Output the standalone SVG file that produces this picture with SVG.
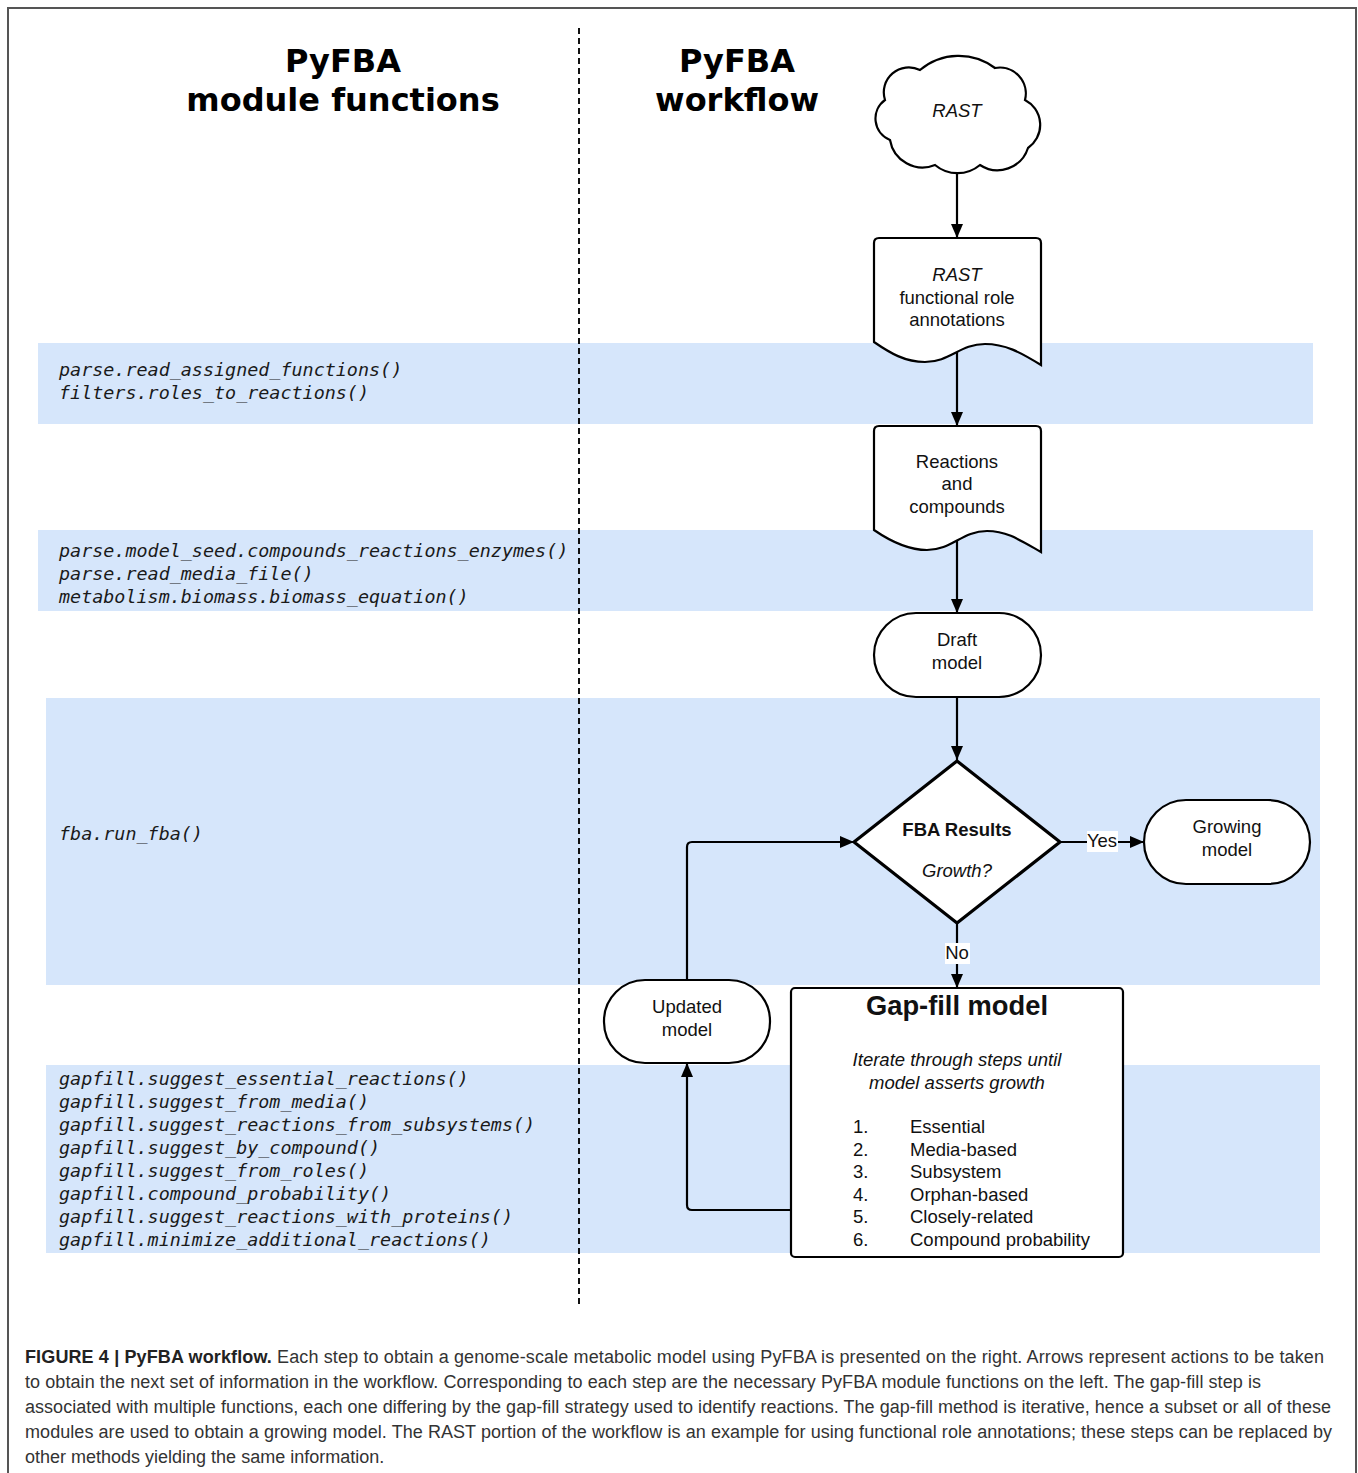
<svg xmlns="http://www.w3.org/2000/svg" width="1358" height="1473" viewBox="0 0 1358 1473">
<style>
.band{fill:#d6e6fb}
.title{font-family:"DejaVu Sans",sans-serif;font-weight:bold;font-size:32px;fill:#000;text-anchor:middle}
.code{font-family:"DejaVu Sans Mono",monospace;font-style:oblique;font-size:18.4px;fill:#1a1a1a}
.shape{fill:#fff;stroke:#000;stroke-width:2.2}
.lbl{font-family:"Liberation Sans",Arial,sans-serif;font-size:18.5px;fill:#111;text-anchor:middle}
.it{font-style:italic}
.b{font-weight:bold}
.conn{fill:none;stroke:#000;stroke-width:2.2}
.cap{font-family:"Liberation Sans",Arial,sans-serif;font-size:18px;fill:#333}
</style>
<defs>
<marker id="ah" viewBox="0 0 14 12" refX="14" refY="6" markerWidth="14" markerHeight="12" markerUnits="userSpaceOnUse" orient="auto">
<path d="M0,0 L14,6 L0,12 Z" fill="#000"/>
</marker>
</defs>
<rect width="1358" height="1473" fill="#fff"/>
<path d="M8,1473 V8 H1356 V1473" fill="none" stroke="#555" stroke-width="2"/>

<g id="bands">
<rect class="band" x="38" y="343" width="1275" height="81"/>
<rect class="band" x="38" y="530" width="1275" height="81"/>
<rect class="band" x="46" y="698" width="1274" height="287"/>
<rect class="band" x="46" y="1065" width="1274" height="188"/>
</g>

<line x1="579" y1="28" x2="579" y2="1306" stroke="#111" stroke-width="2" stroke-dasharray="6,4"/>

<g id="titles">
<text class="title" x="343" y="72">PyFBA</text>
<text class="title" x="343" y="111">module functions</text>
<text class="title" x="737" y="72">PyFBA</text>
<text class="title" x="737" y="111">workflow</text>
</g>

<g id="functions">
<text class="code" x="59" y="376">parse.read_assigned_functions()</text>
<text class="code" x="59" y="399">filters.roles_to_reactions()</text>
<text class="code" x="59" y="557">parse.model_seed.compounds_reactions_enzymes()</text>
<text class="code" x="59" y="580">parse.read_media_file()</text>
<text class="code" x="59" y="603">metabolism.biomass.biomass_equation()</text>
<text class="code" x="59" y="840">fba.run_fba()</text>
<text class="code" x="59" y="1085">gapfill.suggest_essential_reactions()</text>
<text class="code" x="59" y="1108">gapfill.suggest_from_media()</text>
<text class="code" x="59" y="1131">gapfill.suggest_reactions_from_subsystems()</text>
<text class="code" x="59" y="1154">gapfill.suggest_by_compound()</text>
<text class="code" x="59" y="1177">gapfill.suggest_from_roles()</text>
<text class="code" x="59" y="1200">gapfill.compound_probability()</text>
<text class="code" x="59" y="1223">gapfill.suggest_reactions_with_proteins()</text>
<text class="code" x="59" y="1246">gapfill.minimize_additional_reactions()</text>
</g>

<g id="connectors">
<path class="conn" d="M957,168 V238" marker-end="url(#ah)"/>
<path class="conn" d="M957,352 V426" marker-end="url(#ah)"/>
<path class="conn" d="M957,540 V613" marker-end="url(#ah)"/>
<path class="conn" d="M957,697 V760" marker-end="url(#ah)"/>
<path class="conn" d="M1060,842 H1144" marker-end="url(#ah)"/>
<path class="conn" d="M957,923 V988" marker-end="url(#ah)"/>
<path class="conn" d="M791,1210 H692 Q687,1210 687,1205 V1063" marker-end="url(#ah)"/>
<path class="conn" d="M687,980 V847 Q687,842 692,842 H854" marker-end="url(#ah)"/>
<rect x="1087" y="831" width="31" height="21" fill="#fff"/>
<text class="lbl" x="1102" y="847">Yes</text>
<rect x="945" y="943" width="25" height="21" fill="#fff"/>
<text class="lbl" x="957" y="959">No</text>
</g>

<g id="rast-cloud">
<path class="shape" d="M885,100 A25,25 0 0 1 920,70 A60,60 0 0 1 995,68 A26,26 0 0 1 1025,100 A28,28 0 0 1 1028,148 A32,32 0 0 1 980,165 A35,35 0 0 1 935,165 A33,33 0 0 1 890,140 A23,23 0 0 1 885,100 Z"/>
<text class="lbl it" x="957" y="117">RAST</text>
</g>

<g id="rast-annotations">
<path class="shape" d="M874,342 V243 Q874,238 879,238 H1036 Q1041,238 1041,243 V365 C1020,352 1005,344 985,344 C960,344 950,362 925,362 C905,362 890,353 874,342 Z"/>
<text class="lbl it" x="957" y="281">RAST</text>
<text class="lbl" x="957" y="304">functional role</text>
<text class="lbl" x="957" y="326">annotations</text>
</g>

<g id="reactions-compounds">
<path class="shape" d="M874,530 V431 Q874,426 879,426 H1036 Q1041,426 1041,431 V552 C1020,540 1007,531 987,531 C962,531 952,550 927,550 C907,550 890,541 874,530 Z"/>
<text class="lbl" x="957" y="468">Reactions</text>
<text class="lbl" x="957" y="490">and</text>
<text class="lbl" x="957" y="513">compounds</text>
</g>

<g id="draft-model">
<rect class="shape" x="874" y="613" width="167" height="84" rx="42" ry="42"/>
<text class="lbl" x="957" y="646">Draft</text>
<text class="lbl" x="957" y="669">model</text>
</g>

<g id="fba-results">
<path d="M957,761 L1060,842 L957,923 L854,842 Z" fill="#fff" stroke="#000" stroke-width="3.2" stroke-linejoin="round"/>
<text class="lbl b" x="957" y="836">FBA Results</text>
<text class="lbl it" x="957" y="877">Growth?</text>
</g>

<g id="growing-model">
<rect class="shape" x="1144" y="800" width="166" height="84" rx="42" ry="42"/>
<text class="lbl" x="1227" y="833">Growing</text>
<text class="lbl" x="1227" y="856">model</text>
</g>

<g id="updated-model">
<rect class="shape" x="604" y="980" width="166" height="83" rx="41" ry="41"/>
<text class="lbl" x="687" y="1013">Updated</text>
<text class="lbl" x="687" y="1036">model</text>
</g>

<g id="gap-fill-model">
<rect class="shape" x="791" y="988" width="332" height="269" rx="4" ry="4"/>
<text class="lbl b" x="957" y="1015" style="font-size:27.3px">Gap-fill model</text>
<text class="lbl it" x="957" y="1066">Iterate through steps until</text>
<text class="lbl it" x="957" y="1089">model asserts growth</text>
<g class="lbl" style="text-anchor:start">
<text x="853" y="1133">1.</text><text x="910" y="1133">Essential</text>
<text x="853" y="1155.5">2.</text><text x="910" y="1155.5">Media-based</text>
<text x="853" y="1178">3.</text><text x="910" y="1178">Subsystem</text>
<text x="853" y="1200.5">4.</text><text x="910" y="1200.5">Orphan-based</text>
<text x="853" y="1223">5.</text><text x="910" y="1223">Closely-related</text>
<text x="853" y="1245.5">6.</text><text x="910" y="1245.5">Compound probability</text>
</g>
</g>

<g id="caption">
<text class="cap" x="25" y="1363" textLength="1299" lengthAdjust="spacing"><tspan font-weight="bold" fill="#222">FIGURE 4 | PyFBA workflow.</tspan> Each step to obtain a genome-scale metabolic model using PyFBA is presented on the right. Arrows represent actions to be taken</text>
<text class="cap" x="25" y="1388" textLength="1236" lengthAdjust="spacing">to obtain the next set of information in the workflow. Corresponding to each step are the necessary PyFBA module functions on the left. The gap-fill step is</text>
<text class="cap" x="25" y="1413" textLength="1306" lengthAdjust="spacing">associated with multiple functions, each one differing by the gap-fill strategy used to identify reactions. The gap-fill method is iterative, hence a subset or all of these</text>
<text class="cap" x="25" y="1438" textLength="1307" lengthAdjust="spacing">modules are used to obtain a growing model. The RAST portion of the workflow is an example for using functional role annotations; these steps can be replaced by</text>
<text class="cap" x="25" y="1463">other methods yielding the same information.</text>
</g>
</svg>
